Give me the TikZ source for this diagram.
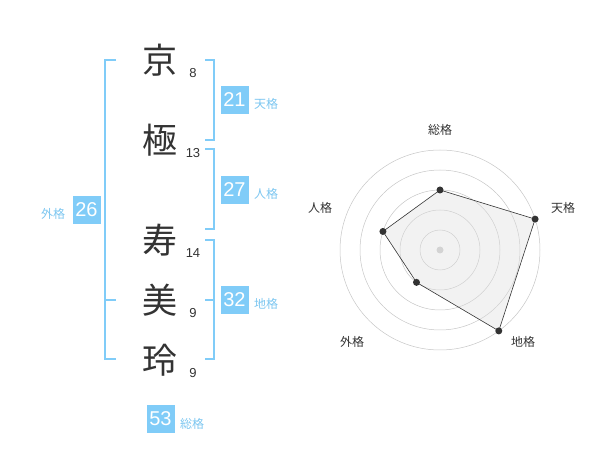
\documentclass[tikz,border=0pt]{standalone}
\usepackage{fontspec}
\setmainfont{Liberation Sans}
\newfontfamily\cjk{Noto Sans CJK JP}
\definecolor{lblue}{HTML}{80CCF8}
\definecolor{tblue}{HTML}{7CC6F0}
\definecolor{dgray}{HTML}{333333}
\begin{document}
\begin{tikzpicture}[x=1pt,y=-1pt,
  bigchar/.style={font=\cjk\fontsize{35}{35}\selectfont, text=dgray, inner sep=0pt},
  strokes/.style={font=\fontsize{13}{13}\selectfont, text=dgray, inner sep=0pt},
  numbox/.style={fill=lblue, text=white, minimum width=28pt, minimum height=28pt, inner sep=0pt, font=\fontsize{20}{20}\selectfont},
  kaku/.style={font=\cjk\fontsize{12}{12}\selectfont, text=tblue, inner sep=0pt},
  bracket/.style={draw=lblue, line width=1.6pt},
  ring/.style={draw=gray!45, line width=0.5pt},
  axlabel/.style={font=\cjk\fontsize{12}{12}\selectfont, text=dgray, inner sep=0pt},
  dot/.style={circle, fill=dgray, minimum size=7pt, inner sep=0pt}]
\useasboundingbox (0,0) rectangle (600,470);
% characters
\node[bigchar] (c1) at (160,60) {京};
\node[bigchar] (c2) at (160,140) {極};
\node[bigchar] (c3) at (160,240) {寿};
\node[bigchar] (c4) at (160,300) {美};
\node[bigchar] (c5) at (160,360) {玲};
\node[strokes] (s1) at (193,73) {8};
\node[strokes] (s2) at (193,153) {13};
\node[strokes] (s3) at (193,253) {14};
\node[strokes] (s4) at (193,313) {9};
\node[strokes] (s5) at (193,373) {9};
% brackets
\draw[bracket] (116,60) -- (105,60) -- (105,359) -- (116,359);
\draw[bracket] (105,300) -- (116,300);
\draw[bracket] (205,60) -- (214,60) -- (214,140) -- (205,140);
\draw[bracket] (205,149) -- (214,149) -- (214,229) -- (205,229);
\draw[bracket] (205,240) -- (214,240) -- (214,359) -- (205,359);
\draw[bracket] (205,300) -- (214,300);
% boxes
\node[numbox] (b21) at (234.5,100) {21};
\node[kaku] (k21) at (266,104) {天格};
\node[numbox] (b27) at (234.5,190) {27};
\node[kaku] (k27) at (266,194) {人格};
\node[numbox] (b26) at (86.5,210) {26};
\node[kaku] (k26) at (53,214) {外格};
\node[numbox] (b32) at (234.5,300) {32};
\node[kaku] (k32) at (266,304) {地格};
\node[numbox] (b53) at (160.5,419) {53};
\node[kaku] (k53) at (192,424) {総格};
% radar
\begin{scope}[shift={(440,250)}]
\foreach \r in {20,40,60,80,100} \draw[ring] (0,0) circle (\r);
\fill[gray!40] (0,0) circle (3.5);
\coordinate (p1) at (-90:60);
\coordinate (p2) at (-18:100);
\coordinate (p3) at (54:100);
\coordinate (p4) at (126:40);
\coordinate (p5) at (198:60);
\filldraw[fill=gray!25, fill opacity=0.4, draw=dgray, line width=0.6pt] (p1) -- (p2) -- (p3) -- (p4) -- (p5) -- cycle;
\foreach \p in {p1,p2,p3,p4,p5} \node[dot] at (\p) {};
\end{scope}
\node[axlabel] (a1) at (440,130) {総格};
\node[axlabel] (a2) at (563,208) {天格};
\node[axlabel] (a3) at (523,342) {地格};
\node[axlabel] (a4) at (352,342) {外格};
\node[axlabel] (a5) at (320,208) {人格};
\end{tikzpicture}
\end{document}
